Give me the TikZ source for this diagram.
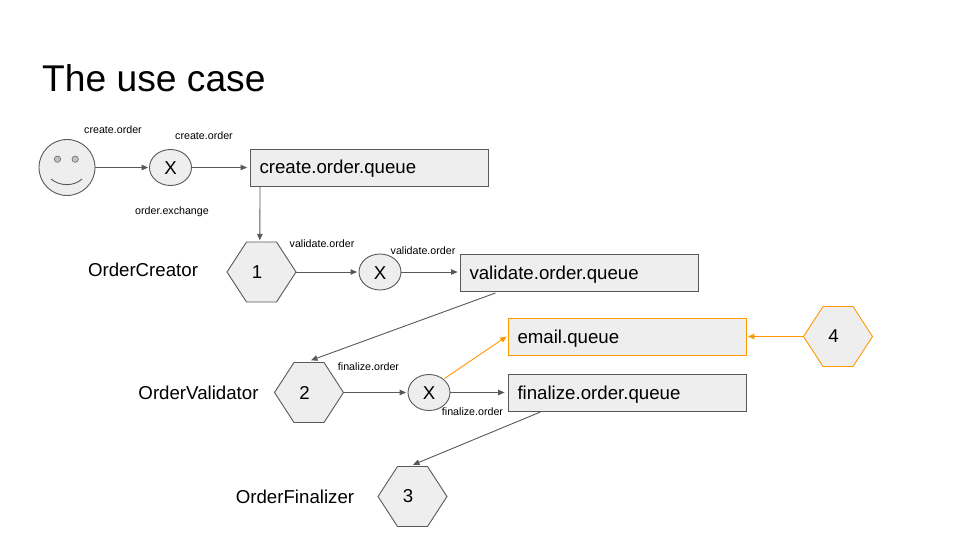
\documentclass[tikz,border=0pt]{standalone}
\usepackage{fontspec}
\setmainfont{Liberation Sans}
\usetikzlibrary{arrows.meta,calc,shapes.geometric}
\definecolor{lin}{HTML}{595959}
\definecolor{fil}{HTML}{EEEEEE}
\definecolor{org}{HTML}{FF9900}
\tikzset{
  x=1pt,y=-1pt,
  base/.style={fill=fil,draw=lin,line width=0.9pt,inner sep=0pt},
  qbox/.style={base,rectangle,minimum width=238pt,minimum height=37pt,text width=219pt,align=left,text height=17pt,text depth=4pt,font=\fontsize{18.67}{22}\selectfont},
  orangebox/.style={qbox,draw=org},
  xnode/.style={base,ellipse,minimum width=42pt,minimum height=36pt,text height=14.5pt,text depth=0pt,font=\fontsize{18.67}{22}\selectfont},
  hexlabel/.style={rectangle,inner sep=0pt,minimum width=69pt,minimum height=60pt,font=\fontsize{18.67}{22}\selectfont},
  small/.style={inner sep=0pt,font=\fontsize{10.67}{13}\selectfont,text=black},
  big/.style={inner sep=0pt,font=\fontsize{18.67}{22}\selectfont,text=black},
  conn/.style={draw=lin,line width=0.9pt,-{Triangle[length=6.5pt,width=5.5pt]}},
  oconn/.style={conn,draw=org},
}
\newcommand{\hexn}[5][lin]{%
  \path[base,draw=#1] (#3-34.5,#4) -- (#3-15,#4-30) -- (#3+15,#4-30) -- (#3+34.5,#4) -- (#3+15,#4+30) -- (#3-15,#4+30) -- cycle;
  \node[hexlabel] (#2) at (#3,#4) {\hspace*{-9pt}\raisebox{-0.8pt}{#5}};}
\begin{document}
\begin{tikzpicture}
\useasboundingbox (0,0) rectangle (960,540);
\fill[white] (0,0) rectangle (960,540);
\node[inner sep=0pt,anchor=base west,font=\fontsize{37.2}{44}\selectfont] (title) at (42,92) {The use case};

% smiley
\node[base,circle,minimum size=56pt] (user) at (67,167.5) {};
\fill[fil!70!lin,draw=lin,line width=0.5pt] (57.5,159.2) circle (3.2pt);
\fill[fil!70!lin,draw=lin,line width=0.5pt] (75.2,159.2) circle (3.2pt);
\draw[lin,line width=0.9pt] (51,179) .. controls (60,186.5) and (74,186.5) .. (82,179);

\node[xnode] (x1) at (170.5,167.5) {X};
\node[xnode] (x2) at (380,272) {X};
\node[xnode] (x3) at (429,392.5) {X};

\node[qbox] (q1) at (369,167.5) {create.order.queue};
\node[qbox] (q2) at (579,272.5) {validate.order.queue};
\node[orangebox] (q3) at (627,336.5) {email.queue};
\node[qbox] (q4) at (627,393) {finalize.order.queue};

\hexn{h1}{261.5}{272}{1}
\hexn{h2}{309}{392.5}{2}
\hexn{h3}{412.5}{496.5}{3}
\hexn[org]{h4}{838}{336.5}{4}

\coordinate (q1out) at ($(q1.south west)+(10.5,0)$);
\coordinate (h1in) at ($(h1.north west)+(33,-1.5)$);
\coordinate (q2out) at ($(q2.south west)+(36,1.5)$);
\coordinate (h2in) at ($(h2.north)+(2,-2)$);
\coordinate (q4out) at ($(q4.south west)+(33,0)$);
\coordinate (h3in) at ($(h3.north)+(0.5,-1.5)$);
\coordinate (x3o) at ($(x3.center)+(15.5,-14)$);

\draw[conn] (user.east) -- ($(x1.west)+(-1,0)$);
\draw[conn] (x1.east) -- ($(q1.west |- x1.east)+(-2.5,0)$);
\draw[conn] (q1out) -- (h1in);
\draw[conn] (h1.east) -- ($(x2.west)+(-1.5,0)$);
\draw[conn] (x2.east) -- ($(q2.west |- x2.east)+(-2,0)$);
\draw[conn] (q2out) -- (h2in);
\draw[conn] (h2.east) -- ($(x3.west)+(-1.5,0)$);
\draw[conn] (x3.east) -- ($(q4.west |- x3.east)+(-3,0)$);
\draw[conn] (q4out) -- (h3in);
\draw[oconn] (x3o) -- ($(q3.west)+(-1,0)$);
\draw[oconn] (h4.west) -- ($(q3.east)+(1.5,0)$);

\node[small] (l1) at (113,129.5) {create.order};
\node[small] (l2) at (204,135.5) {create.order};
\node[small] (l3) at (172,212) {order.exchange};
\node[small] (l4) at (322,243.5) {validate.order};
\node[small] (l5) at (423,251) {validate.order};
\node[small] (l6) at (368.5,367) {finalize.order};
\node[small] (l7) at (472.5,411.5) {finalize.order};
\node[big] (n1) at (143,269.5) {OrderCreator};
\node[big] (n2) at (198.5,392.5) {OrderValidator};
\node[big] (n3) at (295,496.5) {OrderFinalizer};
\end{tikzpicture}
\end{document}
